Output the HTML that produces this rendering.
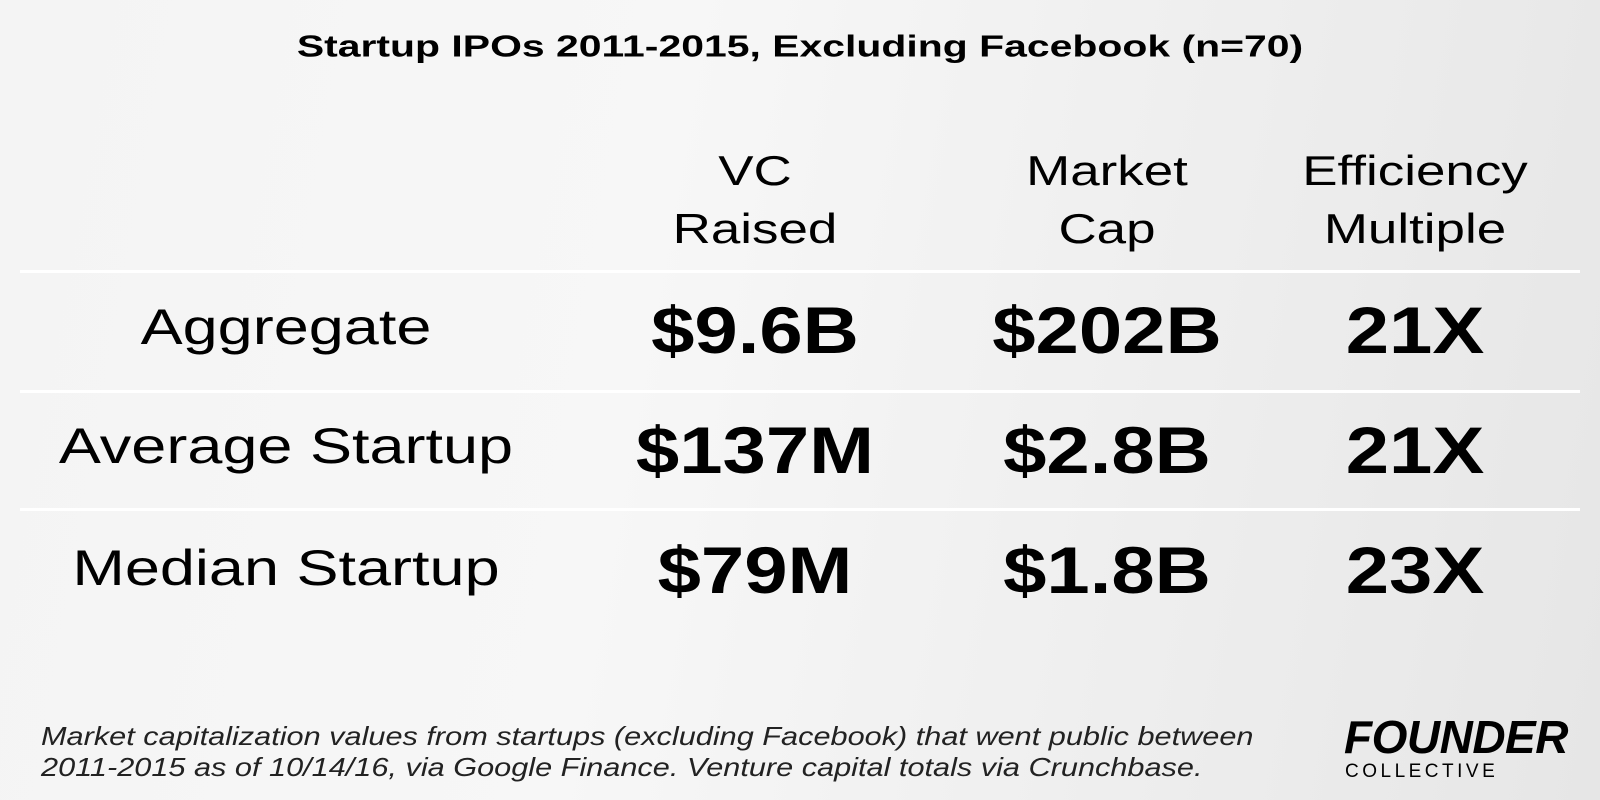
<!DOCTYPE html>
<html><head><meta charset="utf-8"><style>
html,body{margin:0;padding:0}
body{width:1600px;height:800px;position:relative;overflow:hidden;
background:linear-gradient(100deg,#f4f4f4 0%,#f7f7f7 40%,#e6e6e6 100%);
font-family:"Liberation Sans",sans-serif;color:#000}
.t{position:absolute;white-space:nowrap;transform:translate(-50%,-50%) scaleX(var(--k,1));line-height:1}
.hr{position:absolute;left:20px;width:1560px;height:3px;background:#fff}
.h{font-size:42px;text-align:center;line-height:58px;--k:1.26}
.lab{font-size:50px;--k:1.26}
.v{font-size:66px;font-weight:bold;--k:1.18}
.f{position:absolute;left:41px;font-size:26px;font-style:italic;color:#222;white-space:nowrap;transform:scaleX(1.18);transform-origin:left center}
</style></head><body>
<div class="t" style="left:800px;top:46px;font-size:31px;font-weight:bold;--k:1.32">Startup IPOs 2011-2015, Excluding Facebook (n=70)</div>
<div class="t h" style="left:755px;top:200px">VC<br>Raised</div>
<div class="t h" style="left:1107px;top:200px">Market<br>Cap</div>
<div class="t h" style="left:1415px;top:200px">Efficiency<br>Multiple</div>
<div class="hr" style="top:270px"></div>
<div class="hr" style="top:390px"></div>
<div class="hr" style="top:508px"></div>
<div class="t lab" style="left:286px;top:327px">Aggregate</div>
<div class="t lab" style="left:286px;top:446px">Average Startup</div>
<div class="t lab" style="left:286px;top:568px">Median Startup</div>
<div class="t v" style="left:755px;top:330px">$9.6B</div>
<div class="t v" style="left:1107px;top:330px">$202B</div>
<div class="t v" style="left:1415px;top:330px">21X</div>
<div class="t v" style="left:755px;top:450px">$137M</div>
<div class="t v" style="left:1107px;top:450px">$2.8B</div>
<div class="t v" style="left:1415px;top:450px">21X</div>
<div class="t v" style="left:755px;top:570px">$79M</div>
<div class="t v" style="left:1107px;top:570px">$1.8B</div>
<div class="t v" style="left:1415px;top:570px">23X</div>
<div class="f" style="top:721px">Market capitalization values from startups (excluding Facebook) that went public between</div>
<div class="f" style="top:752px">2011-2015 as of 10/14/16, via Google Finance. Venture capital totals via Crunchbase.</div>
<div style="position:absolute;left:1344px;top:714px;font-size:46px;font-weight:bold;font-style:italic;line-height:1;letter-spacing:-0.5px">FOUNDER</div>
<div style="position:absolute;left:1345px;top:762px;font-size:19px;letter-spacing:3.5px;line-height:1">COLLECTIVE</div>
</body></html>
